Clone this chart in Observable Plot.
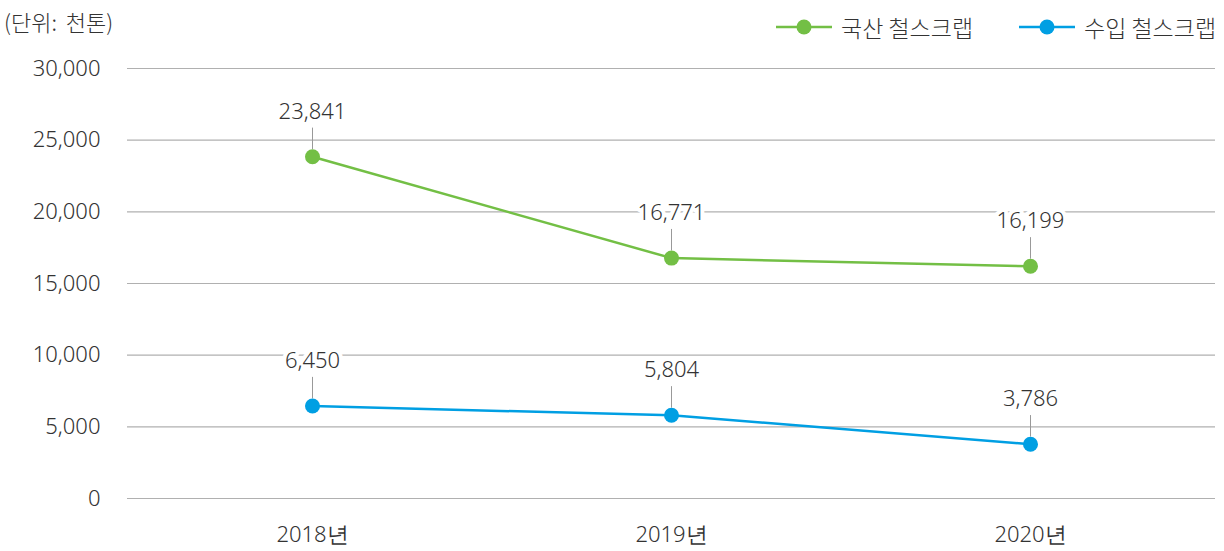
<!DOCTYPE html>
<html>
<head>
<meta charset="utf-8">
<script src="https://cdn.jsdelivr.net/npm/d3@7"></script>
<script src="https://cdn.jsdelivr.net/npm/@observablehq/plot@0.6"></script>
<style>
  html, body { margin: 0; padding: 0; background: #fff; }
  #wrap { position: relative; width: 1224px; height: 551px; font-family: "Noto Sans CJK KR", "Noto Sans", sans-serif; font-weight: 300; color: #333; }
  #unit { position: absolute; left: 4px; top: 5px; font-size: 22px; line-height: 32px; word-spacing: 4px; }
  #legend { position: absolute; top: 11px; left: 776px; display: flex; align-items: center; font-size: 23px; line-height: 32px; }
  .item { display: flex; align-items: center; }
  .item svg { margin-right: 9px; }
  .item + .item { margin-left: 46px; }
  svg.plot text { font-family: "Noto Sans CJK KR", "Noto Sans", sans-serif; font-weight: 300; }
</style>
</head>
<body>
<div id="wrap">
  <div id="unit"></div>
  <div id="legend"></div>
  <div id="chart"></div>
</div>
<script>
const years = ["2018년", "2019년", "2020년"];
const domestic = [23841, 16771, 16199];
const imported = [6450, 5804, 3786];
const seriesNames = ["국산 철스크랩", "수입 철스크랩"];
const seriesColors = ["#73bf45", "#009fe3"];
const yTicks = [0, 5000, 10000, 15000, 20000, 25000, 30000];
const unitLabel = "(단위: 천톤)";

const rows = [];
years.forEach((y, i) => {
  rows.push({year: y, value: domestic[i], series: seriesNames[0]});
  rows.push({year: y, value: imported[i], series: seriesNames[1]});
});

const fmt = d3.format(",");
const txtColor = "#333";

const chart = Plot.plot({
  width: 1224,
  height: 551,
  marginLeft: 127,
  marginRight: 9,
  marginTop: 68,
  marginBottom: 53,
  style: {fontSize: "22px", color: txtColor, background: "#fff"},
  x: {type: "point", domain: years, padding: 0.515, label: null, tickSize: 0, tickPadding: 28},
  y: {domain: [0, 30000], ticks: yTicks, tickFormat: fmt, label: null, tickSize: 0, tickPadding: 27},
  color: {domain: seriesNames, range: seriesColors},
  marks: [
    Plot.gridY(yTicks, {stroke: "#b0b0b0", strokeOpacity: 1, strokeWidth: 1.2}),
    Plot.axisY({ticks: yTicks, tickFormat: fmt, tickSize: 0, tickPadding: 27, label: null, fill: txtColor, fontSize: 22}),
    Plot.axisX({tickSize: 0, tickPadding: 28, label: null, fill: txtColor, fontSize: 22}),
    Plot.ruleX(rows, {x: "year", y1: d => d.value + 500, y2: d => d.value + 2000, stroke: "#999", strokeWidth: 1}),
    Plot.text(rows, {x: "year", y: "value", text: d => fmt(d.value), dy: -45, fill: txtColor, stroke: "#fff", strokeWidth: 8, fontSize: 22}),
    Plot.line(rows, {x: "year", y: "value", z: "series", stroke: "series", strokeWidth: 2.5}),
    Plot.dot(rows, {x: "year", y: "value", fill: "series", r: 7.5})
  ]
});
document.getElementById("chart").appendChild(chart);
document.getElementById("unit").textContent = unitLabel;

const legend = document.getElementById("legend");
seriesNames.forEach((name, i) => {
  const item = document.createElement("div");
  item.className = "item";
  item.innerHTML = `<svg width="56" height="20"><line x1="0" y1="10" x2="56" y2="10" stroke="${seriesColors[i]}" stroke-width="2.5"/><circle cx="28" cy="10" r="7.5" fill="${seriesColors[i]}"/></svg><span>${name}</span>`;
  legend.appendChild(item);
});
</script>
</body>
</html>
